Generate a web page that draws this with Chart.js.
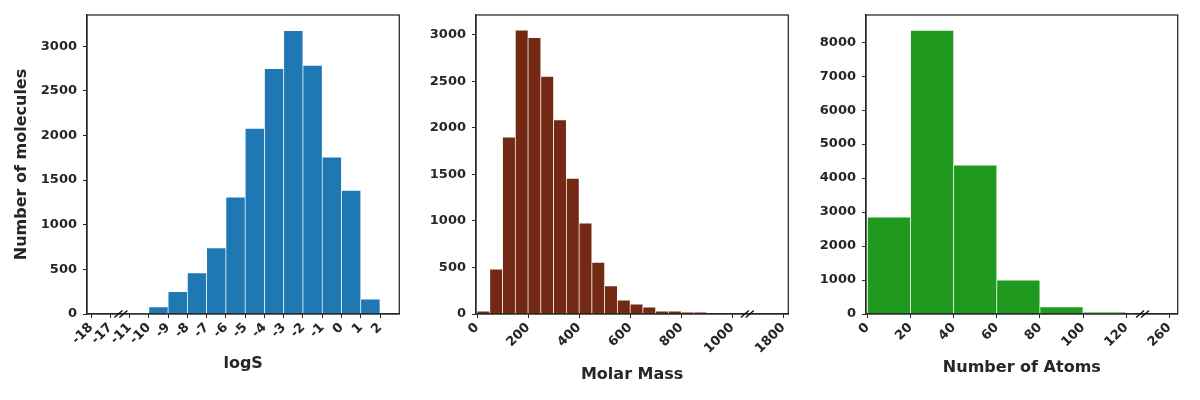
<!DOCTYPE html>
<html>
<head>
<meta charset="utf-8">
<script src="https://cdn.jsdelivr.net/npm/chart.js@4"></script>
<style>
  body { margin: 0; background: #fff; }
  .panel { position: absolute; top: 0; height: 400px; }
</style>
</head>
<body>
<div class="panel" style="left:0;width:410px"><canvas id="chart1"></canvas></div>
<div class="panel" style="left:410px;width:400px"><canvas id="chart2"></canvas></div>
<div class="panel" style="left:810px;width:390px"><canvas id="chart3"></canvas></div>
<script>
// logS histogram (bin start, count), bin width 1
var logsBins = [-11, -10, -9, -8, -7, -6, -5, -4, -3, -2, -1, 0, 1];
var logsCounts = [10, 80, 250, 460, 740, 1310, 2080, 2750, 3175, 2785, 1757, 1385, 168];
var logsTicks = [-18, -17, -11, -10, -9, -8, -7, -6, -5, -4, -3, -2, -1, 0, 1, 2];
var logsYTicks = [0, 500, 1000, 1500, 2000, 2500, 3000];

// molar mass histogram, bin width 50
var massBins = [0, 50, 100, 150, 200, 250, 300, 350, 400, 450, 500, 550, 600, 650, 700, 750, 800, 850];
var massCounts = [30, 483, 1900, 3050, 2970, 2553, 2084, 1457, 977, 555, 301, 150, 107, 75, 32, 32, 21, 21];
var massTicks = [0, 200, 400, 600, 800, 1000, 1800];
var massYTicks = [0, 500, 1000, 1500, 2000, 2500, 3000];

// number of atoms histogram, bin width 20
var atomBins = [0, 20, 40, 60, 80, 100];
var atomCounts = [2850, 8350, 4380, 1000, 210, 55];
var atomTicks = [0, 20, 40, 60, 80, 100, 120, 260];
var atomYTicks = [0, 1000, 2000, 3000, 4000, 5000, 6000, 7000, 8000];

// broken axes: squeeze the empty stretch
function logsPos(v) { return v <= -17 ? v + 18 : v + 13; }
function massPos(v) { return v <= 1000 ? v : 1000 + (v - 1000) / 4; }
function atomPos(v) { return v <= 120 ? v : 120 + (v - 120) / 7; }

var textColor = '#262626';
Chart.defaults.font.family = 'DejaVu Sans';
Chart.defaults.font.weight = 'bold';
Chart.defaults.color = textColor;

// frame + "//" break mark
var framePlugin = {
  id: 'frame',
  afterDraw: function (chart, args, opts) {
    var ctx = chart.ctx, a = chart.chartArea;
    ctx.save();
    ctx.strokeStyle = textColor;
    ctx.lineWidth = 1.25;
    ctx.strokeRect(a.left, a.top, a.right - a.left, a.bottom - a.top);
    var bx = chart.scales.x.getPixelForValue(opts.breakAt);
    ctx.strokeStyle = '#111';
    ctx.lineWidth = 1.4;
    [-2.5, 2.5].forEach(function (off) {
      ctx.beginPath();
      ctx.moveTo(bx + off - 4, a.bottom + 3.5);
      ctx.lineTo(bx + off + 4, a.bottom - 3.5);
      ctx.stroke();
    });
    ctx.restore();
  }
};

function makeChart(id, opt) {
  var data = opt.bins.map(function (b, i) {
    return { x: opt.pos(b) + opt.width / 2, y: opt.counts[i] };
  });
  var tickVals = opt.ticks.map(opt.pos);
  return new Chart(document.getElementById(id), {
    type: 'bar',
    data: {
      datasets: [{
        data: data,
        backgroundColor: opt.color,
        borderColor: 'rgba(255,255,255,0.75)',
        borderWidth: 0.7,
        barPercentage: 1,
        categoryPercentage: 1
      }]
    },
    plugins: [framePlugin],
    options: {
      responsive: true,
      maintainAspectRatio: false,
      animation: false,
      layout: { padding: { top: 15, right: opt.padRight, bottom: 400 - opt.titleBottom, left: 0 } },
      plugins: {
        legend: { display: false },
        tooltip: { enabled: false },
        frame: { breakAt: opt.breakAt }
      },
      scales: {
        x: {
          type: 'linear',
          offset: false,
          min: opt.xmin,
          max: opt.xmax,
          afterBuildTicks: function (scale) {
            scale.ticks = tickVals.map(function (v) { return { value: v }; });
          },
          afterFit: function (scale) { scale.height = opt.titleBottom - 314; },
          ticks: {
            autoSkip: false,
            minRotation: 45,
            maxRotation: 45,
            padding: 2,
            font: { size: 13, weight: 'bold' },
            callback: function (v) {
              var i = tickVals.indexOf(v);
              return i >= 0 ? String(opt.ticks[i]) : '';
            }
          },
          grid: { offset: false, drawOnChartArea: false, drawTicks: true, tickLength: 4, color: textColor },
          border: { display: true, color: textColor, width: 1.25 },
          title: { display: true, text: opt.xTitle, padding: { top: 0, bottom: 0 }, font: { size: 16, weight: 'bold' } }
        },
        y: {
          min: 0,
          max: opt.ymax,
          afterBuildTicks: function (scale) {
            scale.ticks = opt.yTicks.map(function (v) { return { value: v }; });
          },
          afterFit: function (scale) { scale.width = opt.yWidth; },
          ticks: {
            autoSkip: false,
            padding: 6,
            font: { size: 13, weight: 'bold' },
            callback: function (v) { return String(v); }
          },
          grid: { drawOnChartArea: false, drawTicks: true, tickLength: 4, color: textColor },
          border: { display: true, color: textColor, width: 1.25 },
          title: {
            display: !!opt.yTitle,
            text: opt.yTitle || '',
            padding: { top: 12, bottom: 0 },
            font: { size: 16, weight: 'bold' }
          }
        }
      }
    }
  });
}

makeChart('chart1', {
  bins: logsBins, counts: logsCounts, ticks: logsTicks, yTicks: logsYTicks, pos: logsPos, width: 1,
  color: '#1f77b4', xmin: -0.21, xmax: 16.0, ymax: 3350,
  yWidth: 87, padRight: 10.7, titleBottom: 373.6, breakAt: 1.55,
  xTitle: 'logS', yTitle: 'Number of molecules'
});

makeChart('chart2', {
  bins: massBins, counts: massCounts, ticks: massTicks, yTicks: massYTicks, pos: massPos, width: 50,
  color: '#732913', xmin: -4, xmax: 1219.6, ymax: 3212,
  yWidth: 66, padRight: 21.7, titleBottom: 384.6, breakAt: 1059,
  xTitle: 'Molar Mass'
});

makeChart('chart3', {
  bins: atomBins, counts: atomCounts, ticks: atomTicks, yTicks: atomYTicks, pos: atomPos, width: 20,
  color: '#1f9a1f', xmin: -0.65, xmax: 143.9, ymax: 8800,
  yWidth: 56, padRight: 22.3, titleBottom: 377.6, breakAt: 127.6,
  xTitle: 'Number of Atoms'
});
</script>
</body>
</html>
